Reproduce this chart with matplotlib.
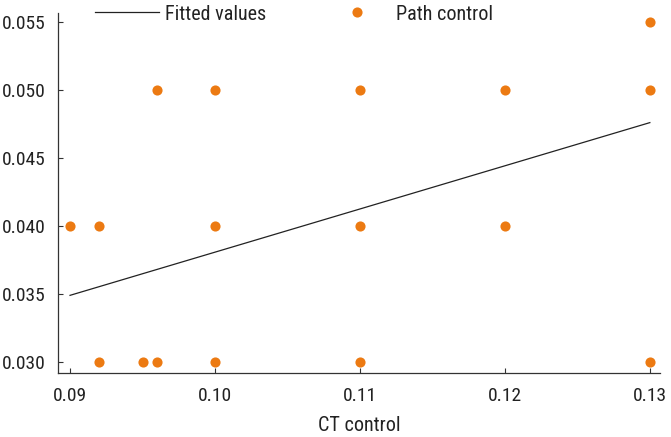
#!/usr/bin/env python3
# Path control vs CT control, with fitted regression line

import matplotlib
matplotlib.use('Agg')
import matplotlib.pyplot as plt
from matplotlib import font_manager
from matplotlib.ticker import FormatStrFormatter

CT_CONTROL = [0.090, 0.092, 0.092, 0.095, 0.096, 0.096,
              0.100, 0.100, 0.100, 0.110, 0.110, 0.110,
              0.120, 0.120, 0.130, 0.130, 0.130]
PATH_CONTROL = [0.040, 0.040, 0.030, 0.030, 0.050, 0.030,
                0.050, 0.040, 0.030, 0.050, 0.040, 0.030,
                0.050, 0.040, 0.055, 0.050, 0.030]

FIT_X = [0.090, 0.130]
FIT_Y = [0.0349, 0.0476]

X_TICKS = [0.09, 0.10, 0.11, 0.12, 0.13]
Y_TICKS = [0.030, 0.035, 0.040, 0.045, 0.050, 0.055]

ORANGE = '#EC7A12'
TEXT = '#222222'


def pick_font():
    names = {f.name for f in font_manager.fontManager.ttflist}
    for name in ['Liberation Sans Narrow', 'DejaVu Sans Condensed',
                 'Roboto Condensed', 'Liberation Sans']:
        if name in names:
            return name
    return 'DejaVu Sans'


def main():
    plt.rcParams['font.family'] = [pick_font(), 'DejaVu Sans']
    fig = plt.figure(figsize=(6.71, 4.37), dpi=100)
    ax = fig.add_axes([58 / 671, 64 / 437, 602 / 671, 360 / 437])

    ax.plot(FIT_X, FIT_Y, color='#222222', linewidth=0.9,
            label='Fitted values', zorder=2)
    ax.plot(CT_CONTROL, PATH_CONTROL, linestyle='none', marker='o',
            markersize=7.3, color=ORANGE, markeredgewidth=0,
            label='Path control', zorder=3)

    ax.set_xlim(0.08917, 0.1307)
    ax.set_ylim(0.02919, 0.05566)
    ax.set_xticks(X_TICKS)
    ax.set_yticks(Y_TICKS)
    ax.xaxis.set_major_formatter(FormatStrFormatter('%.2f'))
    ax.yaxis.set_major_formatter(FormatStrFormatter('%.3f'))

    for side in ['top', 'right']:
        ax.spines[side].set_visible(False)
    for side in ['left', 'bottom']:
        ax.spines[side].set_color('#333333')
        ax.spines[side].set_linewidth(0.9)
    ax.tick_params(direction='in', length=3.5, width=0.8, colors='#333333',
                   labelsize=14, labelcolor=TEXT)
    ax.tick_params(axis='x', pad=10)
    ax.tick_params(axis='y', pad=9)

    ax.set_xlabel('CT control', fontsize=14.5, color=TEXT, labelpad=8)

    fig.legend(loc='center left', bbox_to_anchor=(95 / 671, 1 - 14 / 437),
               ncol=2, frameon=False, fontsize=14.5, borderpad=0,
               borderaxespad=0, handlelength=3.2, handletextpad=0.3,
               columnspacing=2.9, labelcolor=TEXT)

    fig.savefig('out.png', dpi=100)


if __name__ == '__main__':
    main()
